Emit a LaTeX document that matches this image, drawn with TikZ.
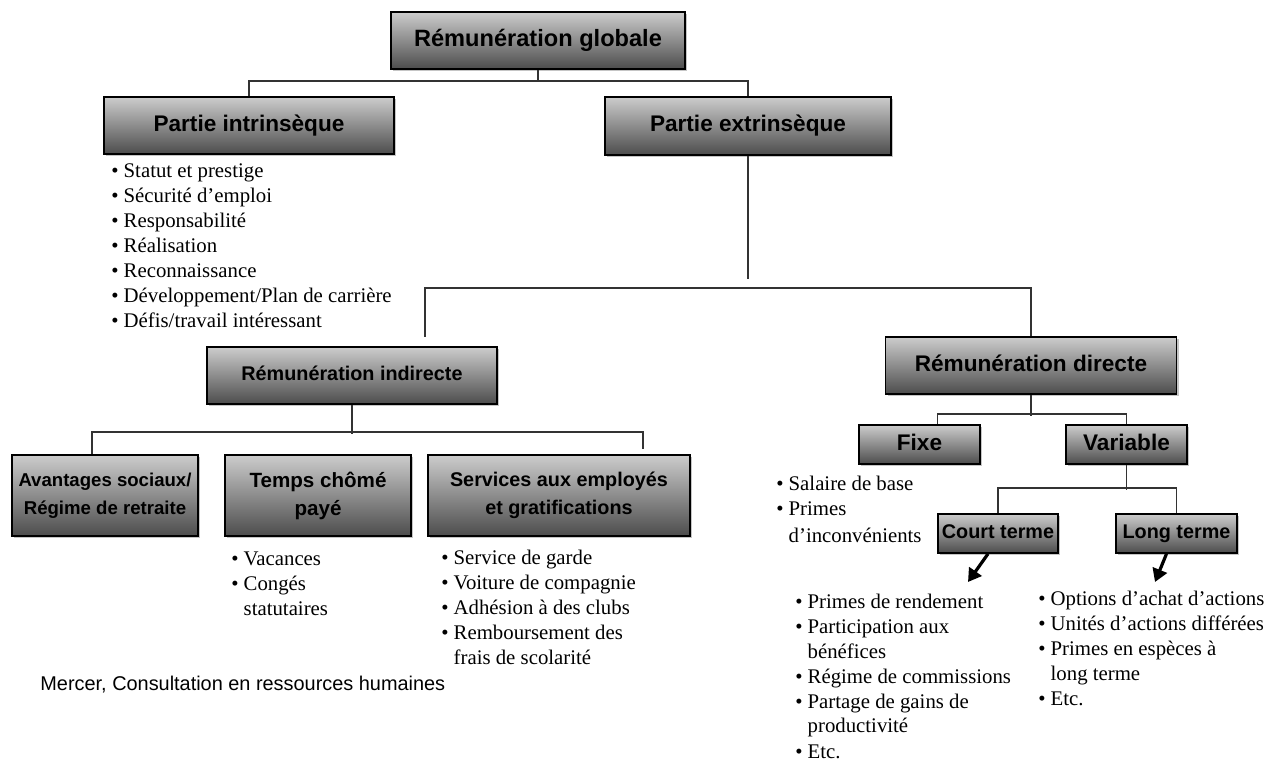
\documentclass[tikz,border=0pt]{standalone}
\usepackage{fontspec}
\setmainfont{Liberation Serif}
\setsansfont{Liberation Sans}
\usetikzlibrary{shadows,arrows.meta}

\begin{document}
\begin{tikzpicture}[x=0.5pt,y=-0.5pt]
\tikzstyle{boite} = [drop shadow={shadow xshift=1pt,shadow yshift=-1pt,fill=black!45,opacity=0.5},
  draw=black, line width=0.8pt, top color=black!20, bottom color=black!70,
  inner sep=0pt, align=center]
\tikzstyle{grande} = [boite, text height=8.4pt, text depth=2.4pt,
  font=\sffamily\bfseries\fontsize{11.3}{13.6}\selectfont]
\tikzstyle{petite} = [boite, font=\sffamily\bfseries\fontsize{9.9}{14}\selectfont]
\tikzstyle{court} = [petite, text height=7.4pt, text depth=2.1pt]
\tikzstyle{liste} = [inner sep=0pt, anchor=base west, font=\fontsize{10.4}{12.5}\selectfont]
\tikzstyle{trait} = [draw=black!80, line width=0.75pt]
\tikzstyle{fleche} = [line width=1.6pt, -{Triangle[length=6.5pt,width=7.5pt]}]

\useasboundingbox (0,0) rectangle (1270,759);

\node[grande, minimum width=147pt, minimum height=28.5pt,
  font=\sffamily\bfseries\fontsize{11.8}{14}\selectfont] (glob) at (538,40.5) {Rémunération globale};

\node[grande, minimum width=145pt, minimum height=28.5pt] (intr) at (249,125.5) {Partie intrinsèque};

\node[grande, minimum width=143pt, minimum height=29pt] (extr) at (748,126) {Partie extrinsèque};

\node[court, minimum width=145pt, minimum height=28.5pt] (indi) at (352,375.5) {Rémunération indirecte};

\node[grande, minimum width=145.5pt, minimum height=28.5pt] (dire) at (1031,365.5) {Rémunération directe};

\node[petite, minimum width=93pt, minimum height=40.5pt,
  font=\sffamily\bfseries\fontsize{9.3}{14}\selectfont] (avan) at (105,495.5) {Avantages sociaux/\\Régime de retraite};

\node[petite, minimum width=93pt, minimum height=40.5pt,
  font=\sffamily\bfseries\fontsize{10.3}{14}\selectfont] (temp) at (318,495.5) {Temps chômé\\payé};

\node[petite, minimum width=131pt, minimum height=40.5pt] (serv) at (559,495.5) {Services aux employés\\et gratifications};

\node[grande, minimum width=60.5pt, minimum height=19.5pt] (fixe) at (919.5,444.5) {Fixe};

\node[grande, minimum width=60.5pt, minimum height=19.5pt] (vari) at (1126.5,444.5) {Variable};

\node[court, minimum width=60pt, minimum height=19.5pt] (cour) at (998,533.5) {Court terme};

\node[court, minimum width=60.5pt, minimum height=19.5pt] (long) at (1176.5,533.5) {Long terme};

% listes
\node[liste] (lintr) at (111,178) {
  \begin{tabular}[t]{@{}l@{\hspace{2.5pt}}l@{}}
  \textbullet & Statut et prestige\\
  \textbullet & Sécurité d’emploi\\
  \textbullet & Responsabilité\\
  \textbullet & Réalisation\\
  \textbullet & Reconnaissance\\
  \textbullet & Développement/Plan de carrière\\
  \textbullet & Défis/travail intéressant\\
  \end{tabular}
};

\node[liste] (ltemp) at (231,565) {
  \begin{tabular}[t]{@{}l@{\hspace{2.5pt}}l@{}}
  \textbullet & Vacances\\
  \textbullet & Congés\\
              & statutaires\\
  \end{tabular}
};

\node[liste] (lserv) at (441,564) {
  \begin{tabular}[t]{@{}l@{\hspace{2.5pt}}l@{}}
  \textbullet & Service de garde\\
  \textbullet & Voiture de compagnie\\
  \textbullet & Adhésion à des clubs\\
  \textbullet & Remboursement des\\
              & frais de scolarité\\
  \end{tabular}
};

\node[liste, font=\fontsize{10.4}{13}\selectfont] (lfixe) at (776,490) {
  \begin{tabular}[t]{@{}l@{\hspace{2.5pt}}l@{}}
  \textbullet & Salaire de base\\
  \textbullet & Primes\\
              & d’inconvénients\\
  \end{tabular}
};

\node[liste] (lcour) at (795,608) {
  \begin{tabular}[t]{@{}l@{\hspace{2.5pt}}l@{}}
  \textbullet & Primes de rendement\\
  \textbullet & Participation aux\\
              & bénéfices\\
  \textbullet & Régime de commissions\\
  \textbullet & Partage de gains de\\
              & productivité\\
  \textbullet & Etc.\\
  \end{tabular}
};

\node[liste] (llong) at (1038,605) {
  \begin{tabular}[t]{@{}l@{\hspace{2.5pt}}l@{}}
  \textbullet & Options d’achat d’actions\\
  \textbullet & Unités d’actions différées\\
  \textbullet & Primes en espèces à\\
              & long terme\\
  \textbullet & Etc.\\
  \end{tabular}
};

\node[anchor=base west, inner sep=0pt, font=\sffamily\fontsize{9.95}{12}\selectfont] (source) at (40,690) {Mercer, Consultation en ressources humaines};

% ligne de premier niveau
\coordinate (n1) at (538,81);
\draw[trait] (glob.south) -- (n1);
\draw[trait] (intr.north) |- (n1) -| (extr.north);

% ligne de deuxieme niveau
\draw[trait] (extr.south) -- ++(0,123);
\coordinate (n2) at (425,337);
\draw[trait] (n2) -- ++(0,-49) -| (dire.north);

% remuneration indirecte
\draw[trait] (indi.south) -- ++(0,29);
\draw[trait] ([xshift=-6.5pt]avan.north) -- ++(0,-22) -- ++(551,0) -- ++(0,17);

% remuneration directe
\draw[trait] (dire.south) -- ++(0,21);
\draw[trait] ([xshift=9pt]fixe.north) -- ++(0,-10) -| (vari.north);
\draw[trait] (vari.south) -- ++(0,25);
\draw[trait] (cour.north) -- ++(0,-25) -| (long.north);

% fleches
\coordinate (fc) at (968,582);
\coordinate (fl) at (1155,582);
\draw[fleche] ([xshift=-5pt]cour.south) -- (fc);
\draw[fleche] ([xshift=-5pt]long.south) -- (fl);

\end{tikzpicture}
\end{document}
